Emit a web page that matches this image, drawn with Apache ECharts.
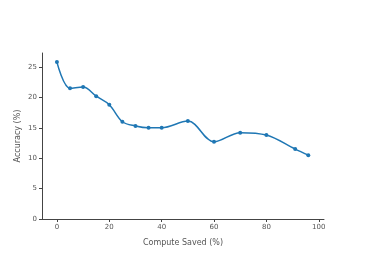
<!DOCTYPE html>
<html>
<head>
<meta charset="utf-8">
<script src="https://cdn.jsdelivr.net/npm/echarts@6/dist/echarts.min.js"></script>
<style>html,body{margin:0;padding:0;background:#fff;}#c{width:366px;height:261px;}</style>
</head>
<body>
<div id="c"></div>
<script>
const computeSaved = [0, 5, 10, 15, 20, 25, 30, 35, 40, 50, 60, 70, 80, 91, 96];
const accuracy = [25.8, 21.5, 21.7, 20.2, 18.8, 16.0, 15.3, 15.0, 15.0, 16.1, 12.7, 14.2, 13.8, 11.5, 10.5];
const xTicks = [0, 20, 40, 60, 80, 100];
const yTicks = [0, 5, 10, 15, 20, 25];

const chart = echarts.init(document.getElementById('c'), null, {renderer: 'canvas'});
const font = '"DejaVu Sans", Verdana, sans-serif';
chart.setOption({
  animation: false,
  backgroundColor: '#fff',
  grid: {left: 42, top: 53, right: 42, bottom: 42, containLabel: false},
  xAxis: {
    type: 'value', min: -5.7, max: 102,
    name: 'Compute Saved (%)', nameLocation: 'middle', nameGap: 20,
    nameTextStyle: {fontFamily: font, fontSize: 8, color: '#555'},
    splitLine: {show: false},
    axisLine: {show: true, onZero: false, lineStyle: {color: '#444', width: 1}},
    axisTick: {show: true, length: 3, lineStyle: {color: '#444'}, customValues: xTicks},
    axisLabel: {fontFamily: font, fontSize: 7, color: '#555', margin: 5, customValues: xTicks}
  },
  yAxis: {
    type: 'value', min: 0, max: 27.3,
    name: 'Accuracy (%)', nameLocation: 'middle', nameGap: 20, nameMoveOverlap: false,
    nameTextStyle: {fontFamily: font, fontSize: 8, color: '#555'},
    splitLine: {show: false},
    axisLine: {show: true, onZero: false, lineStyle: {color: '#444', width: 1}},
    axisTick: {show: true, length: 3, lineStyle: {color: '#444'}, customValues: yTicks},
    axisLabel: {fontFamily: font, fontSize: 7, color: '#555', margin: 5, customValues: yTicks}
  },
  series: [{
    type: 'line',
    data: computeSaved.map((x, i) => [x, accuracy[i]]),
    smooth: 0.35,
    symbol: 'circle', symbolSize: 4,
    lineStyle: {color: '#1f77b4', width: 1.5},
    itemStyle: {color: '#1f77b4'}
  }]
});
</script>
</body>
</html>
